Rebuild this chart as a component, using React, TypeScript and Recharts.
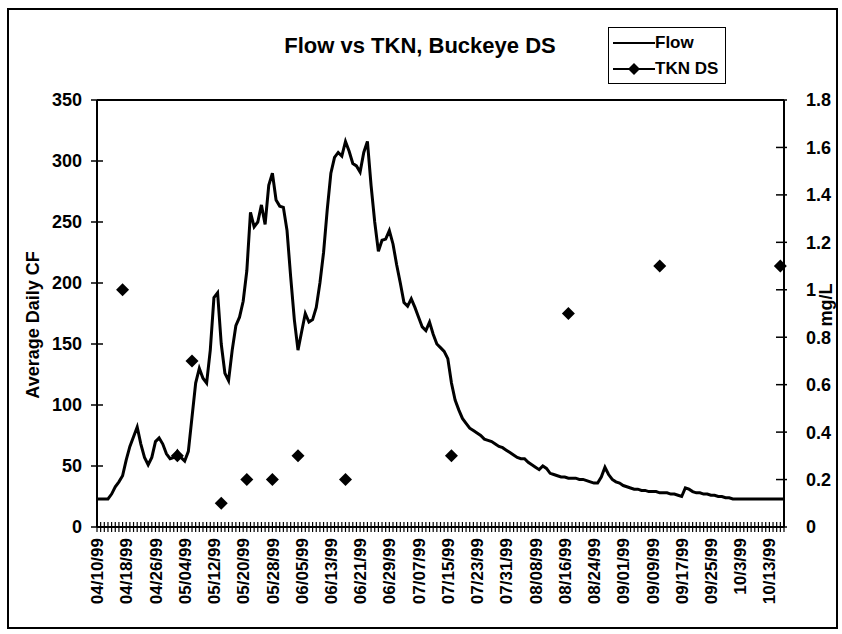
import { ComposedChart, Line, XAxis, YAxis, ReferenceLine } from "recharts";

// x-axis labels, one every 8 days
const dateLabels = [
  "04/10/99", "04/18/99", "04/26/99", "05/04/99", "05/12/99", "05/20/99",
  "05/28/99", "06/05/99", "06/13/99", "06/21/99", "06/29/99", "07/07/99",
  "07/15/99", "07/23/99", "07/31/99", "08/08/99", "08/16/99", "08/24/99",
  "09/01/99", "09/09/99", "09/17/99", "09/25/99", "10/3/99", "10/13/99",
];

// average daily flow (CF)
const aprFlow = [23, 23, 23, 23, 27, 33, 37, 42, 55, 66, 74, 82, 68, 57, 51, 57, 70, 73, 68, 60, 56];
const mayFlow = [
  57, 62, 57, 54, 62, 90, 118, 130, 122, 118, 145, 188, 192, 150, 126, 120,
  145, 165, 172, 185, 210, 258, 246, 250, 264, 248, 280, 290, 268, 263, 262,
];
const junFlow = [
  243, 205, 170, 145, 160, 175, 168, 170, 180, 200, 225, 260, 290, 303, 307,
  304, 316, 308, 298, 296, 291, 307, 316, 280, 250, 226, 235, 236, 243, 232,
];
const julFlow = [
  215, 200, 184, 181, 187, 180, 172, 164, 161, 168, 158, 150, 147, 144, 138, 118,
  104, 96, 89, 85, 81, 79, 77, 75, 72, 71, 70, 68, 66, 65, 63,
];
const augFlow = [
  61, 59, 57, 56, 56, 53, 51, 49, 47, 50, 48, 44, 43, 42, 41, 41,
  40, 40, 40, 39, 39, 38, 37, 36, 36, 41, 49, 43, 39, 37, 36,
];
const sepFlow = [
  34, 33, 32, 31, 31, 30, 30, 29, 29, 29, 28, 28, 28, 27, 27,
  26, 25, 32, 31, 29, 28, 28, 27, 27, 26, 26, 25, 25, 24, 24,
];
const octFlow = [23, 23, 23, 23, 23, 23, 23, 23, 23, 23, 23, 23, 23, 23, 23];

// TKN DS samples (mg/L) and the day they fall on
const tknDays = [7, 22, 26, 34, 41, 48, 55, 68, 97, 129, 154, 187];
const tknValues = [1.0, 0.3, 0.7, 0.1, 0.2, 0.2, 0.3, 0.2, 0.3, 0.9, 1.1, 1.1];

const flowTicks = [0, 50, 100, 150, 200, 250, 300, 350];
const tknTicks = [0, 0.2, 0.4, 0.6, 0.8, 1, 1.2, 1.4, 1.6, 1.8];

const flow = [...aprFlow, ...mayFlow, ...junFlow, ...julFlow, ...augFlow, ...sepFlow, ...octFlow];
const data = flow.map((v, i) => {
  const k = tknDays.indexOf(i);
  return { day: i, flow: v, tkn: k >= 0 ? tknValues[k] : null };
});
const dayTicks = flow.map((_, i) => i);

const FONT = "'Liberation Sans', Arial, Helvetica, sans-serif";

const DateTick = (props: any) => {
  const { x, y, payload } = props;
  const day = payload.value;
  const label = day % 8 === 0 ? dateLabels[day / 8] : null;
  return (
    <g>
      <line x1={x} x2={x} y1={y - 5} y2={y + 5} stroke="#000" strokeWidth={1.2} />
      {label && (
        <text
          x={x}
          y={y + 11}
          transform={`rotate(-90 ${x} ${y + 11})`}
          textAnchor="end"
          dy="0.36em"
          fontSize={17}
          fontWeight="bold"
          fontFamily={FONT}
          fill="#000"
        >
          {label}
        </text>
      )}
    </g>
  );
};

const LeftTick = (props: any) => {
  const { x, y, payload } = props;
  return (
    <g>
      <line x1={x - 6} x2={x + 6} y1={y} y2={y} stroke="#000" strokeWidth={1.5} />
      <text x={x - 15} y={y} dy="0.36em" textAnchor="end" fontSize={18} fontWeight="bold" fontFamily={FONT} fill="#000">
        {payload.value}
      </text>
    </g>
  );
};

const RightTick = (props: any) => {
  const { x, y, payload } = props;
  return (
    <g>
      <line x1={x - 8} x2={x + 3} y1={y} y2={y} stroke="#000" strokeWidth={1.5} />
      <text x={x + 22} y={y} dy="0.36em" textAnchor="start" fontSize={18} fontWeight="bold" fontFamily={FONT} fill="#000">
        {String(Math.round(payload.value * 10) / 10)}
      </text>
    </g>
  );
};

const Diamond = (props: any) => {
  const { cx, cy, payload, index } = props;
  if (payload == null || payload.tkn == null || cy == null) return <g key={index} />;
  return (
    <polygon
      key={index}
      points={`${cx},${cy - 6.5} ${cx + 6.5},${cy} ${cx},${cy + 6.5} ${cx - 6.5},${cy}`}
      fill="#000"
    />
  );
};

const App = () => {
  return (
    <div style={{ position: "relative", width: 842, height: 634, background: "#fff", fontFamily: FONT }}>
      <style>{`body { margin: 0; }`}</style>
      <div
        style={{
          position: "absolute", left: 7, top: 8, width: 831, height: 621,
          border: "2px solid #000", boxSizing: "border-box",
        }}
      />
      <div
        style={{
          position: "absolute", left: 270, top: 33, width: 300, textAlign: "center",
          fontSize: 22, fontWeight: "bold", whiteSpace: "nowrap",
        }}
      >
        Flow vs TKN, Buckeye DS
      </div>
      <div
        style={{
          position: "absolute", left: 608, top: 27, width: 118, height: 57,
          border: "1.5px solid #000", boxSizing: "border-box", fontSize: 17, fontWeight: "bold",
        }}
      >
        <svg width={44} height={54} style={{ position: "absolute", left: 2, top: 0 }}>
          <line x1={2} x2={44} y1={15} y2={15} stroke="#000" strokeWidth={2} />
          <line x1={2} x2={44} y1={41} y2={41} stroke="#000" strokeWidth={2} />
          <polygon points="23,35 29,41 23,47 17,41" fill="#000" />
        </svg>
        <div style={{ position: "absolute", left: 46, top: 5, lineHeight: "20px" }}>Flow</div>
        <div style={{ position: "absolute", left: 46, top: 31, lineHeight: "20px", whiteSpace: "nowrap" }}>TKN DS</div>
      </div>
      <div
        style={{
          position: "absolute", left: 33, top: 325, transform: "translate(-50%, -50%) rotate(-90deg)",
          fontSize: 18, fontWeight: "bold", whiteSpace: "nowrap",
        }}
      >
        Average Daily CF
      </div>
      <div
        style={{
          position: "absolute", left: 826, top: 305, transform: "translate(-50%, -50%) rotate(-90deg)",
          fontSize: 18, fontWeight: "bold", whiteSpace: "nowrap",
        }}
      >
        mg/L
      </div>
      <div style={{ position: "absolute", left: 0, top: 0 }}>
        <ComposedChart width={842} height={634} data={data} margin={{ top: 100, right: 0, bottom: 0, left: 0 }}>
          <XAxis
            dataKey="day"
            type="number"
            domain={[0, 188]}
            ticks={dayTicks}
            interval={0}
            tick={<DateTick />}
            tickSize={0}
            tickMargin={0}
            tickLine={false}
            height={107}
            axisLine={{ stroke: "#000", strokeWidth: 2 }}
          />
          <YAxis
            yAxisId="left"
            orientation="left"
            domain={[0, 350]}
            ticks={flowTicks}
            interval={0}
            width={97}
            tick={<LeftTick />}
            tickSize={0}
            tickMargin={0}
            tickLine={false}
            axisLine={{ stroke: "#000", strokeWidth: 2 }}
          />
          <YAxis
            yAxisId="right"
            orientation="right"
            domain={[0, 1.8]}
            ticks={tknTicks}
            interval={0}
            width={58}
            tick={<RightTick />}
            tickSize={0}
            tickMargin={0}
            tickLine={false}
            axisLine={{ stroke: "#000", strokeWidth: 2 }}
          />
          <ReferenceLine yAxisId="left" y={350} stroke="#000" strokeWidth={2} />
          <Line
            yAxisId="left"
            dataKey="flow"
            type="linear"
            stroke="#000"
            strokeWidth={3}
            dot={false}
            activeDot={false}
            isAnimationActive={false}
          />
          <Line
            yAxisId="right"
            dataKey="tkn"
            type="linear"
            stroke="none"
            connectNulls={false}
            dot={<Diamond />}
            activeDot={false}
            isAnimationActive={false}
          />
        </ComposedChart>
      </div>
    </div>
  );
};

export default App;
